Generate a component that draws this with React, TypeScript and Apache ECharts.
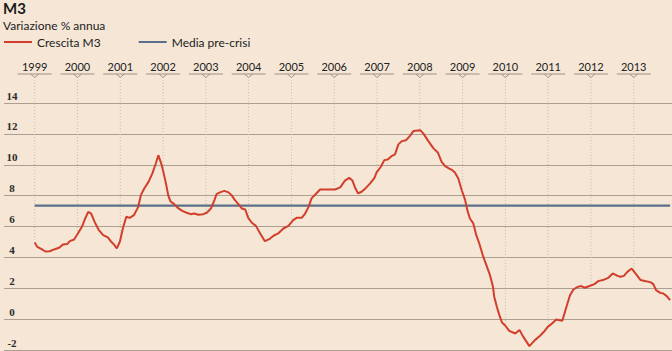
import React, { useEffect, useRef } from "react";
import * as echarts from "echarts";

// Decimal-year positions of the traced points of the M3 growth line
const dates = [
  1999.0, 1999.06, 1999.15, 1999.25, 1999.35, 1999.47, 1999.58, 1999.66, 1999.76, 1999.82, 1999.92,
  2000.01, 2000.11, 2000.18, 2000.25, 2000.32, 2000.4, 2000.5, 2000.6, 2000.71, 2000.79, 2000.85, 2000.92, 2000.99,
  2001.06, 2001.14, 2001.22, 2001.32, 2001.42, 2001.48, 2001.56, 2001.66, 2001.75, 2001.83, 2001.89, 2001.97,
  2002.06, 2002.12, 2002.17, 2002.26, 2002.36, 2002.45, 2002.55, 2002.65, 2002.73, 2002.82, 2002.94,
  2003.02, 2003.12, 2003.2, 2003.25, 2003.33, 2003.43, 2003.53, 2003.6, 2003.68, 2003.76, 2003.84, 2003.92, 2003.99,
  2004.07, 2004.17, 2004.27, 2004.38, 2004.48, 2004.58, 2004.69, 2004.81, 2004.93,
  2005.04, 2005.12, 2005.24, 2005.32, 2005.4, 2005.47, 2005.58, 2005.67, 2005.83,
  2006.02, 2006.14, 2006.25, 2006.35, 2006.42, 2006.49, 2006.56, 2006.64, 2006.74, 2006.84, 2006.94, 2006.99,
  2007.09, 2007.17, 2007.25, 2007.35, 2007.42, 2007.5, 2007.58, 2007.68, 2007.77, 2007.85,
  2008.01, 2008.08, 2008.2, 2008.32, 2008.42, 2008.51, 2008.59, 2008.68, 2008.76, 2008.82, 2008.9, 2008.98,
  2009.06, 2009.11, 2009.17, 2009.25, 2009.32, 2009.39, 2009.47, 2009.57, 2009.64, 2009.71, 2009.74, 2009.8, 2009.86, 2009.92,
  2010.0, 2010.09, 2010.23, 2010.33, 2010.42, 2010.56, 2010.69, 2010.81, 2010.9, 2010.99,
  2011.09, 2011.19, 2011.33, 2011.44, 2011.51, 2011.59, 2011.69, 2011.77, 2011.86, 2011.98,
  2012.08, 2012.17, 2012.28, 2012.4, 2012.51, 2012.62, 2012.69, 2012.77, 2012.85, 2012.95,
  2013.04, 2013.16, 2013.28, 2013.4, 2013.46, 2013.52, 2013.62, 2013.69, 2013.77, 2013.85,
];

// Crescita M3 (% annua)
const crescitaM3 = [
  4.97, 4.68, 4.55, 4.38, 4.4, 4.53, 4.64, 4.84, 4.86, 5.05, 5.16,
  5.55, 6.02, 6.52, 6.95, 6.84, 6.3, 5.76, 5.44, 5.29, 5.01, 4.84, 4.58, 5.01,
  5.87, 6.63, 6.56, 6.74, 7.27, 8.03, 8.46, 8.89, 9.44, 10.08, 10.62, 9.97,
  8.89, 8.03, 7.64, 7.45, 7.17, 7.01, 6.89, 6.8, 6.84, 6.76, 6.8,
  6.89, 7.17, 7.71, 8.1, 8.21, 8.31, 8.21, 8.03, 7.71, 7.45, 7.17, 7.1, 6.56,
  6.26, 6.04, 5.55, 5.05, 5.18, 5.4, 5.55, 5.87, 6.04,
  6.41, 6.56, 6.56, 6.84, 7.27, 7.82, 8.14, 8.4, 8.4,
  8.4, 8.53, 8.97, 9.15, 9.0, 8.5, 8.14, 8.25, 8.5, 8.79, 9.15, 9.5,
  9.87, 10.3, 10.34, 10.58, 10.67, 11.32, 11.53, 11.59, 11.87, 12.18,
  12.24, 12.03, 11.53, 11.06, 10.8, 10.19, 9.91, 9.76, 9.65, 9.5, 9.11, 8.35,
  7.71, 7.06, 6.52, 6.2, 5.44, 4.9, 4.15, 3.39, 2.85, 2.09, 1.44, 0.8, 0.26, -0.22,
  -0.43, -0.76, -0.93, -0.71, -1.15, -1.75, -1.36, -1.08, -0.82, -0.5,
  -0.28, -0.02, -0.11, 0.91, 1.55, 1.92, 2.09, 2.14, 2.03, 2.16,
  2.27, 2.46, 2.53, 2.67, 2.96, 2.8, 2.74, 2.8, 3.06, 3.28,
  2.96, 2.53, 2.46, 2.38, 2.25, 1.88, 1.7, 1.66, 1.49, 1.23,
];

const mediaPreCrisi = 7.35;
const years = [1999, 2000, 2001, 2002, 2003, 2004, 2005, 2006, 2007, 2008, 2009, 2010, 2011, 2012, 2013];
const yTicks = [-2, 0, 2, 4, 6, 8, 10, 12, 14];

const RED = "#d13f2c";
const BLUE = "#5a6f88";
const BG = "#f5e6d6";

function valueAt(t: number): number {
  for (let i = 0; i < dates.length - 1; i++) {
    if (t >= dates[i] && t <= dates[i + 1]) {
      const f = (t - dates[i]) / (dates[i + 1] - dates[i]);
      return crescitaM3[i] + f * (crescitaM3[i + 1] - crescitaM3[i]);
    }
  }
  return t < dates[0] ? crescitaM3[0] : crescitaM3[crescitaM3.length - 1];
}

export default function App() {
  const ref = useRef<HTMLDivElement>(null);
  useEffect(() => {
    if (!ref.current) return;
    const chart = echarts.init(ref.current, undefined, { renderer: "svg" });
    const font = "Lato";
    const option: any = {
      animation: false,
      backgroundColor: BG,
      title: {
        text: "M3",
        subtext: "Variazione % annua",
        left: 3,
        top: 0,
        padding: 0,
        itemGap: 4,
        textStyle: { fontFamily: font, fontSize: 15, fontWeight: "bold", color: "#1a1a1a" },
        subtextStyle: { fontFamily: font, fontSize: 12, color: "#222" },
      },
      legend: {
        left: 4,
        top: 36,
        padding: 0,
        icon: "rect",
        itemWidth: 28,
        itemHeight: 2,
        itemGap: 38,
        data: ["Crescita M3", "Media pre-crisi"],
        textStyle: { fontFamily: font, fontSize: 12, color: "#222" },
      },
      grid: { left: 4, right: 0, top: 103, bottom: 1, containLabel: false },
      xAxis: {
        type: "value",
        min: 1999 - 30.7 / 42.79,
        max: 1999 + (672 - 34.7) / 42.79,
        axisLabel: { show: false },
        axisTick: { show: false },
        axisLine: { show: false },
        splitLine: { show: false },
      },
      yAxis: {
        type: "value",
        min: yTicks[0],
        max: yTicks[yTicks.length - 1],
        interval: 2,
        axisLine: { show: false },
        axisTick: { show: false },
        splitLine: { show: true, lineStyle: { color: "#ab9f92", width: 1 } },
        axisLabel: {
          inside: true,
          margin: 8,
          align: "center",
          verticalAlign: "bottom",
          padding: [0, 0, 2, 0],
          fontFamily: "Liberation Serif",
          fontSize: 11,
          fontWeight: "bold",
          color: "#2a2a2a",
        },
      },
      series: [
        {
          name: "Crescita M3",
          type: "line",
          data: dates.map((d, i) => [d, crescitaM3[i]]),
          showSymbol: false,
          symbol: "none",
          color: RED,
          lineStyle: { color: RED, width: 2 },
          z: 4,
        },
        {
          name: "Media pre-crisi",
          type: "line",
          data: [
            [dates[0], mediaPreCrisi],
            [dates[dates.length - 1], mediaPreCrisi],
          ],
          showSymbol: false,
          symbol: "none",
          color: BLUE,
          lineStyle: { color: BLUE, width: 2.4 },
          z: 3,
        },
        {
          name: "anni",
          type: "custom",
          clip: false,
          z: 1,
          data: years.map((y) => [y, valueAt(y)]),
          renderItem: (params: any, api: any) => {
            const yr = api.value(0);
            const v = api.value(1);
            const p = api.coord([yr, v]);
            const x = p[0];
            const top = params.coordSys.y;
            const lineY = top - 29;
            return {
              type: "group",
              children: [
                {
                  type: "text",
                  style: {
                    text: String(yr),
                    x,
                    y: lineY - 2,
                    align: "center",
                    verticalAlign: "bottom",
                    fill: "#222",
                    font: `11px ${font}`,
                  },
                },
                {
                  type: "line",
                  shape: { x1: x - 17, y1: lineY, x2: x + 17, y2: lineY },
                  style: { stroke: "#9d9186", lineWidth: 1 },
                },
                {
                  type: "polyline",
                  shape: { points: [[x - 4, lineY], [x, lineY + 3.5], [x + 4, lineY]] },
                  style: { stroke: "#9d9186", lineWidth: 1, fill: null },
                },
                {
                  type: "line",
                  shape: { x1: x, y1: lineY + 6, x2: x, y2: p[1] },
                  style: { stroke: "#c9bdb1", lineWidth: 1, lineDash: [1, 2] },
                },
              ],
            };
          },
        },
      ],
    };
    chart.setOption(option);
    return () => chart.dispose();
  }, []);
  return (
    <div
      ref={ref}
      style={{ position: "fixed", left: 0, top: 0, width: 672, height: 351 }}
    />
  );
}
